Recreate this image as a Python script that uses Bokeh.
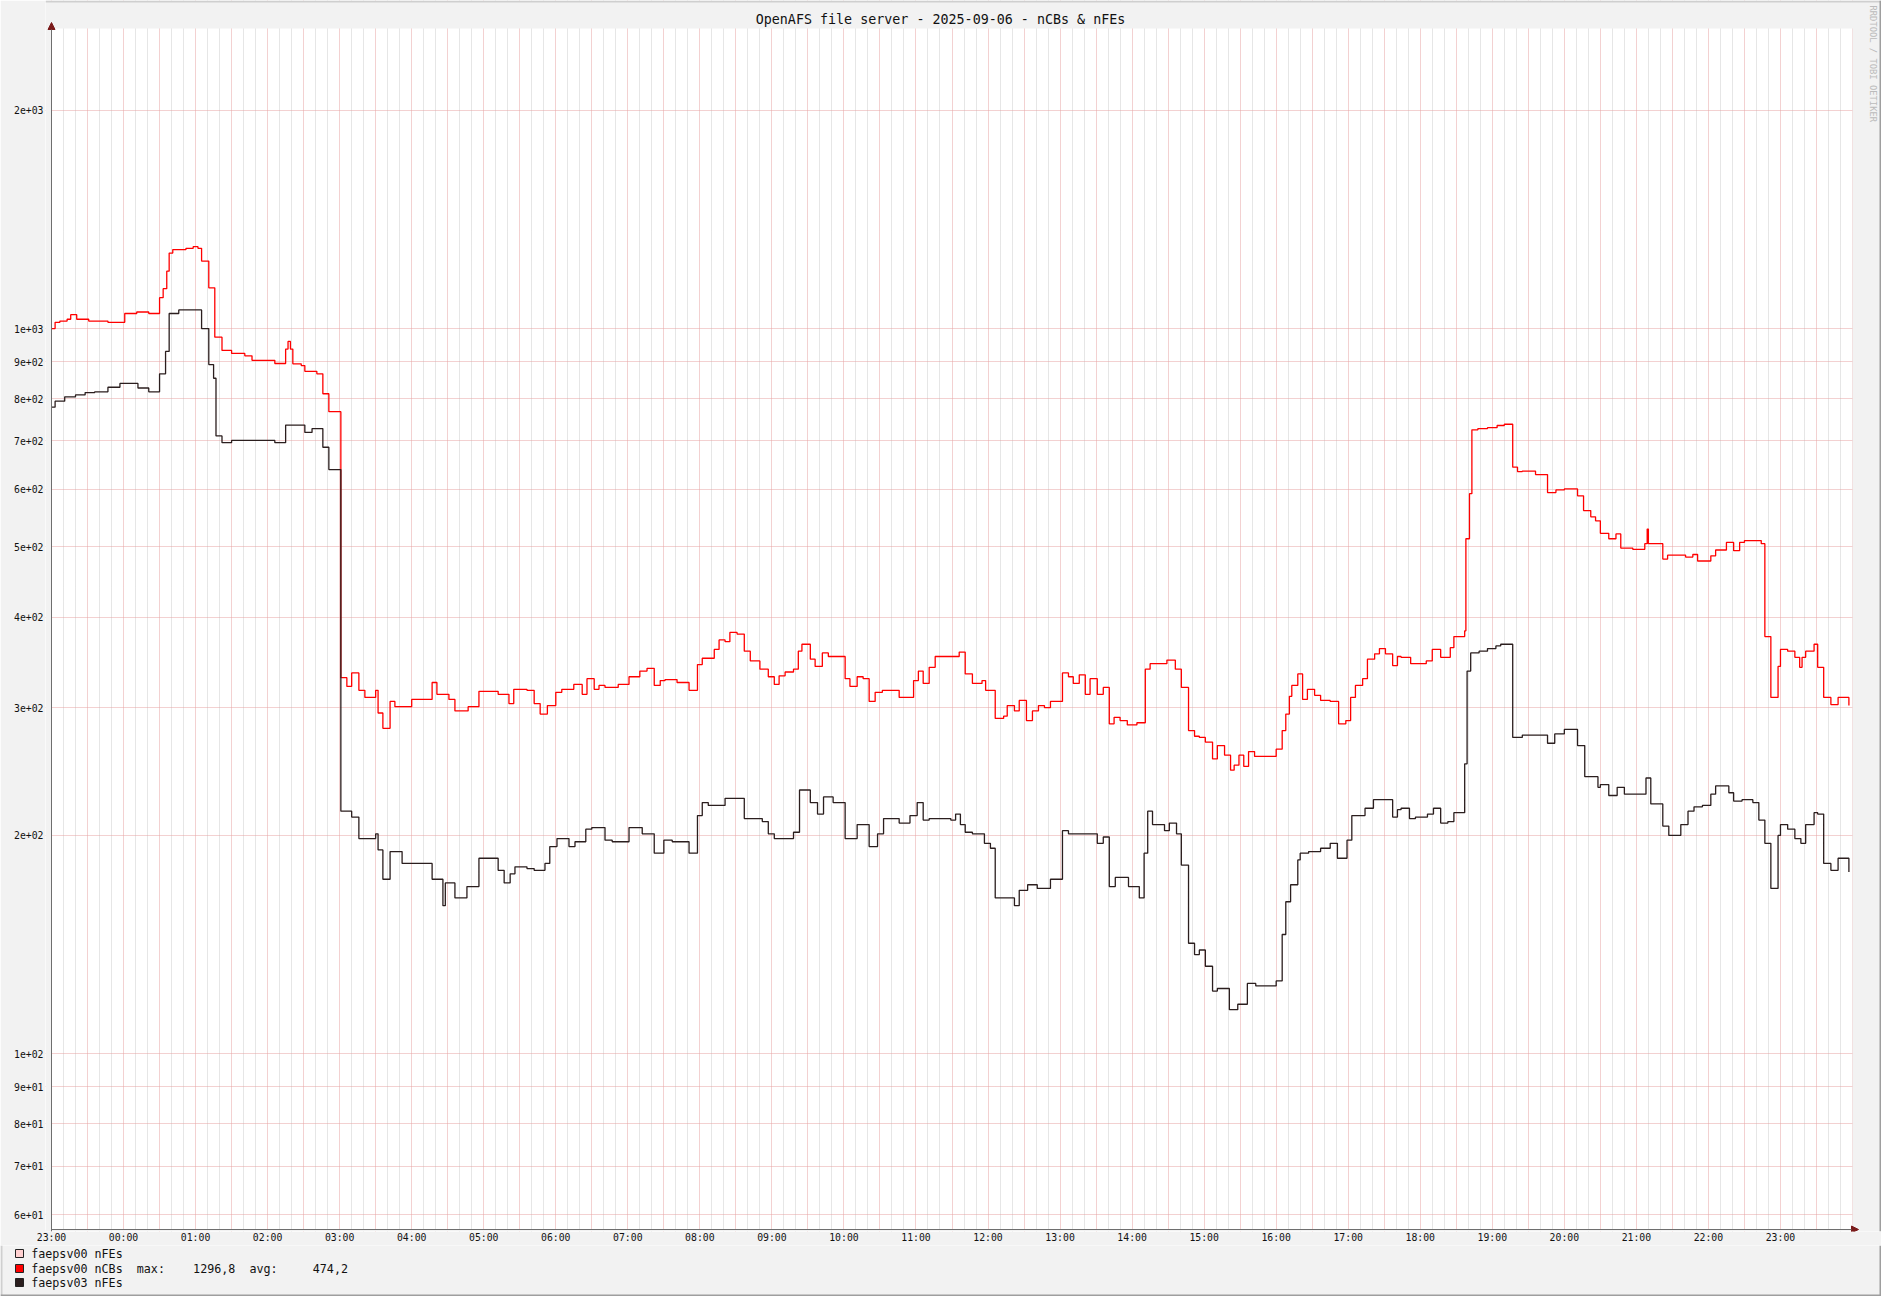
import math
import pandas as pd
from bokeh.plotting import figure
from bokeh.layouts import column
from bokeh.models import (FixedTicker, DatetimeTickFormatter, Label, BoxAnnotation,
                          Arrow, NormalHead, Range1d, ColumnDataSource)
from bokeh.embed import file_html
from bokeh.resources import INLINE

# ---------------- data ----------------
title_text = "OpenAFS file server - 2025-09-06 - nCBs & nFEs"
credit_text = "RRDTOOL / TOBI OETIKER"
start_time = "2025-09-05 23:00"
span_minutes = 1500

# faepsv00 nCBs : minutes since 23:00 (step starts) and values
red_min = [0, 3, 7, 13, 16, 21, 31, 47, 61, 71, 81, 90, 93, 96, 98, 101, 112, 118, 122,
           125, 131, 136, 142, 150, 161, 167, 186, 195, 197, 199, 201, 208, 211, 221, 226, 231,
           241, 246, 250, 256, 261, 270, 272, 276, 282, 286, 300, 317, 321, 331, 336, 347, 356,
           372, 381, 385, 396, 402, 407, 413, 420, 425, 435, 442, 446, 452, 456, 461, 472, 481,
           490, 496, 502, 507, 511, 521, 531, 538, 542, 552, 556, 561, 565, 571, 577, 582, 590,
           597, 602, 606, 611, 618, 622, 625, 632, 636, 642, 647, 661, 665, 671, 676, 681, 686,
           692, 706, 718, 722, 726, 731, 736, 756, 761, 767, 775, 778, 786, 793, 796, 802, 806,
           812, 817, 822, 827, 832, 842, 847, 851, 856, 861, 865, 871, 876, 881, 885, 890, 896,
           904, 911, 915, 929, 936, 941, 947, 952, 956, 961, 967, 971, 977, 982, 985, 989, 993,
           997, 1002, 1020, 1025, 1028, 1031, 1033, 1038, 1042, 1046, 1052, 1057, 1065, 1072,
           1078, 1082, 1086, 1092, 1096, 1102, 1106, 1111, 1117, 1121, 1124, 1132, 1145, 1150,
           1157, 1165, 1168, 1177, 1178, 1181, 1183, 1188, 1196, 1204, 1210, 1217, 1221, 1225,
           1236, 1246, 1253, 1260, 1271, 1276, 1282, 1286, 1290, 1297, 1303, 1307, 1317, 1327,
           1329, 1330, 1342, 1346, 1361, 1367, 1371, 1382, 1386, 1395, 1401, 1406, 1410, 1424,
           1427, 1432, 1438, 1440, 1446, 1452, 1456, 1458, 1461, 1468, 1471, 1476, 1482, 1488,
           1497]
red_val = [1000, 1020, 1024, 1030, 1045, 1030, 1024, 1020, 1049, 1054, 1049, 1103, 1135, 1200,
           1271, 1285, 1290, 1297, 1290, 1239, 1138, 973, 933, 924, 917, 904, 895, 937, 960, 937,
           894, 889, 873, 866, 813, 768,
           330, 321, 335, 317, 310, 317, 295, 281, 306, 301, 308, 325, 313, 308, 297, 301, 316,
           313, 304, 318, 317, 304, 294, 302, 315, 318, 323, 313, 329, 318, 322, 320, 323, 331,
           337, 340, 322, 327, 328, 325, 317, 344, 351, 361, 372, 370, 381, 379, 359, 348, 339,
           331, 323, 332, 336, 339, 359, 367, 350, 342, 357, 353, 329, 321, 331, 329, 306, 315,
           317, 310, 327, 337, 324, 341, 353, 358, 334, 324, 327, 317, 290, 292, 302, 297, 307,
           288, 297, 302, 300, 306, 335, 331, 324, 333, 313, 329, 313, 320, 285, 291, 288, 284,
           286, 339, 345, 349, 339, 320, 279, 274, 273, 269, 255, 266, 258, 246, 250, 258, 249,
           261, 257, 263, 279, 294, 311, 322, 334, 308, 318, 312, 307, 306, 285,
           288, 310, 322, 329, 350, 356, 362, 356, 343, 353, 352, 345, 348, 361,
           352, 363, 376, 383, 513, 592, 725, 728, 730, 735, 738, 644, 635, 636,
           629, 594, 599, 601, 588, 561, 550, 543, 522, 513, 521, 498, 496, 505,
           529, 505, 481, 487, 484, 488, 478, 486, 495, 507, 494, 507, 510, 505,
           376, 310, 342, 361, 359, 352, 341, 352, 359, 367, 341, 310, 303, 310,
           302]

# faepsv03 nFEs
blk_min = [0, 3, 11, 20, 28, 36, 47, 57, 72, 81, 90, 95, 98, 106, 125, 131, 135, 137, 142, 150,
           186, 195, 211, 217, 226, 231, 241, 250, 256, 270, 272, 276, 282, 292, 317, 326, 328,
           336, 346, 356, 372, 377, 382, 386, 396, 402, 411, 415, 421, 431, 436, 445, 450, 461,
           467, 481, 492, 502, 510, 517, 531, 538, 542, 547, 561, 577, 592, 597, 602, 618, 623,
           632, 638, 643, 651, 661, 671, 681, 688, 693, 706, 715, 721, 726, 731, 749, 753, 757,
           761, 767, 777, 782, 786, 802, 806, 813, 821, 832, 842, 847, 871, 876, 881, 886, 897,
           906, 910, 913, 917, 927, 931, 937, 941, 947, 952, 956, 961, 967, 971, 981, 988, 996,
           1003, 1020, 1025, 1028, 1032, 1038, 1040, 1047, 1057, 1065, 1071, 1079, 1083, 1094,
           1101, 1117, 1121, 1124, 1131, 1136, 1146, 1151, 1157, 1163, 1168, 1177, 1179, 1182,
           1189, 1196, 1203, 1207, 1217, 1225, 1246, 1252, 1260, 1271, 1277, 1288, 1290, 1297,
           1304, 1310, 1328, 1332, 1342, 1347, 1357, 1363, 1368, 1375, 1382, 1386, 1397, 1401,
           1408, 1417, 1422, 1427, 1432, 1438, 1440, 1446, 1452, 1457, 1461, 1468, 1471, 1476,
           1482, 1488, 1497]
blk_val = [779, 794, 805, 810, 816, 818, 830, 840, 828, 818, 866, 930, 1049, 1061, 1000, 892,
           854, 711, 696, 701, 696, 736, 719, 728, 686, 639, 216, 212, 198, 201, 191, 174, 190,
           183, 174, 160, 172, 164, 170, 186, 179, 172, 177, 181, 180, 179, 183, 193, 198, 193,
           196, 204, 205, 197, 196, 205, 201, 189, 197, 196, 189, 213, 222, 220, 225, 211, 209,
           201, 198, 202, 231, 222, 214, 226, 222, 198, 207, 193, 201, 211, 208, 213, 222, 210,
           211, 210, 214, 207, 202, 201, 195, 192, 164, 160, 168, 171, 169, 174, 203, 201, 195,
           199, 170, 175, 170, 164, 189, 216, 207, 203, 208, 201, 182, 142, 137, 139, 132, 122,
           123, 115, 117, 125, 124, 126, 146, 162, 171, 185, 189, 190, 192, 195, 186, 197, 213,
           218, 224, 212, 217, 218, 211, 212, 214, 218, 208, 209, 215, 251, 337, 357, 359, 362,
           365, 367, 273, 275, 268, 276, 280, 266, 241, 233, 235, 227, 233, 228, 240, 221, 206,
           200, 207, 216, 219, 220, 228, 234, 229, 223, 224, 222, 210, 195, 169, 200, 207, 204,
           198, 195, 207, 215, 214, 183, 179, 186, 178]

y_ticks = [60, 70, 80, 90, 100, 200, 300, 400, 500, 600, 700, 800, 900, 1000, 2000]
y_tick_labels = ["6e+01", "7e+01", "8e+01", "9e+01", "1e+02", "2e+02", "3e+02", "4e+02",
                 "5e+02", "6e+02", "7e+02", "8e+02", "9e+02", "1e+03", "2e+03"]

legend_names = ["faepsv00 nFEs", "faepsv00 nCBs", "faepsv03 nFEs"]
legend_colors = ["#FFD0D0", "#FF0000", "#2B1E1E"]
stat_max = "1296,8"
stat_avg = "474,2"

# value range shown by the plot area (y axis bottom / top)
Y_MIN, Y_MAX = 57.22, 2592.9

# ---------------- layout constants (pixels) ----------------
W, H = 1881, 1296
H_MAIN = 1245                                            # main chart canvas height
PLOT_L, PLOT_R, PLOT_T, PLOT_B = 51, 1852, 28, 1229     # plot area
FRAME_L, FRAME_R, FRAME_T, FRAME_B = 45, 1881, 0, 1231  # bokeh frame

px_per_min = (PLOT_R - PLOT_L) / span_minutes
dec_px = (PLOT_B - PLOT_T) / (math.log10(Y_MAX) - math.log10(Y_MIN))
x_lo = -(PLOT_L - FRAME_L) / px_per_min
x_hi = span_minutes + (FRAME_R - PLOT_R) / px_per_min
y_lo = 10 ** (math.log10(Y_MIN) - (FRAME_B - PLOT_B) / dec_px)
y_hi = 10 ** (math.log10(Y_MAX) + (PLOT_T - FRAME_T) / dec_px)

t0 = pd.Timestamp(start_time)


def to_dt(mins):
    return [t0 + pd.Timedelta(minutes=m) for m in mins]


def ms(m):
    return (t0 + pd.Timedelta(minutes=m)).value / 1e6


p = figure(width=W, height=H_MAIN, x_axis_type="datetime", y_axis_type="log",
           x_range=Range1d(ms(x_lo), ms(x_hi)), y_range=Range1d(y_lo, y_hi),
           output_backend="svg", toolbar_location=None,
           min_border_left=FRAME_L, min_border_right=W - FRAME_R,
           min_border_top=FRAME_T, min_border_bottom=H_MAIN - FRAME_B)
p.frame_align = False
BACK = "#F2F2F2"
LIGHT_EDGE = "#CFCFCF"
DARK_EDGE = "#9E9E9E"
p.border_fill_color = BACK
p.background_fill_color = "#FFFFFF"
p.outline_line_color = None

MONO = "DejaVu Sans Mono"
AXIS_COL = "#6E6E6E"
ARROW_COL = "#7A1A1A"

# x axis
p.xaxis.ticker = FixedTicker(ticks=[ms(m) for m in range(0, 1441, 60)])
fmt = "%H:%M"
p.xaxis.formatter = DatetimeTickFormatter(milliseconds=fmt, seconds=fmt, minsec=fmt, minutes=fmt,
                                          hourmin=fmt, hours=fmt, days=fmt, months=fmt, years=fmt)
p.xgrid.ticker = FixedTicker(ticks=[ms(m) for m in range(0, span_minutes + 1, 30)],
                             minor_ticks=[ms(m) for m in range(0, span_minutes + 1, 10) if m % 30])
# y axis
p.yaxis.ticker = FixedTicker(ticks=y_ticks)
p.ygrid.ticker = FixedTicker(ticks=y_ticks)
p.yaxis.major_label_overrides = {float(v): s for v, s in zip(y_ticks, y_tick_labels)}

for ax in (p.xaxis, p.yaxis):
    ax.axis_line_color = None
    ax.major_tick_line_color = None
    ax.minor_tick_line_color = None
    ax.major_tick_out = 0
    ax.major_tick_in = 0
    ax.major_label_text_font = MONO
    ax.major_label_text_font_size = "9.8px"
    ax.major_label_text_color = "#111111"
p.xaxis.major_label_standoff = 0
p.yaxis.major_label_standoff = 2

for g in (p.xgrid, p.ygrid):
    g.grid_line_color = "#E6A3A3"
    g.grid_line_dash = "1 1"
    g.grid_line_width = 1
p.xgrid.minor_grid_line_color = "#CDCDCD"
p.xgrid.minor_grid_line_dash = "1 1"

# series
red_src = ColumnDataSource(dict(x=to_dt(red_min), y=red_val))
blk_src = ColumnDataSource(dict(x=to_dt(blk_min), y=blk_val))
p.step("x", "y", source=red_src, mode="after", line_color=legend_colors[1], line_width=1.3)
p.step("x", "y", source=blk_src, mode="after", line_color=legend_colors[2], line_width=1.3)

# cover the frame outside the plot area with the background colour
p.add_layout(BoxAnnotation(bottom=Y_MAX, fill_color=BACK, fill_alpha=1, line_color=None))
p.add_layout(BoxAnnotation(top=Y_MIN, fill_color=BACK, fill_alpha=1, line_color=None))
p.add_layout(BoxAnnotation(right=ms(0), fill_color=BACK, fill_alpha=1, line_color=None))
p.add_layout(BoxAnnotation(left=ms(span_minutes), fill_color=BACK, fill_alpha=1, line_color=None))
# picture edges (top light, right dark)
p.add_layout(BoxAnnotation(bottom=FRAME_B - 2, bottom_units="screen",
                           fill_color=LIGHT_EDGE, fill_alpha=1, line_color=None))
p.add_layout(BoxAnnotation(left=W - 2 - FRAME_L, left_units="screen",
                           fill_color=DARK_EDGE, fill_alpha=1, line_color=None))

# axis lines with arrow heads
tip = 6 / px_per_min
p.add_layout(Arrow(end=NormalHead(size=7, fill_color=ARROW_COL, line_color=ARROW_COL),
                   x_start=ms(0), y_start=y_lo,
                   x_end=ms(0), y_end=10 ** (math.log10(Y_MAX) + 6 / dec_px),
                   line_color=AXIS_COL, line_width=1))
p.add_layout(Arrow(end=NormalHead(size=7, fill_color=ARROW_COL, line_color=ARROW_COL),
                   x_start=ms(0), y_start=Y_MIN, x_end=ms(span_minutes + tip), y_end=Y_MIN,
                   line_color=AXIS_COL, line_width=1))

# title (inside frame, above plot area)
p.add_layout(Label(x=940 - FRAME_L, y=FRAME_B - 19.2, x_units="screen", y_units="screen",
                   text=title_text, text_font=MONO, text_font_size="13.35px",
                   text_align="center", text_baseline="middle", text_color="#111111"))

# credit text at right edge
p.add_layout(Label(x=1872 - FRAME_L, y=FRAME_B - 5, x_units="screen", y_units="screen",
                   text=credit_text, text_font=MONO, text_font_size="8.8px",
                   angle=-math.pi / 2, text_align="left", text_baseline="middle",
                   text_color="#BBBBBB"))

# ---------------- legend strip ----------------
H_LEG = H - H_MAIN
q = figure(width=W, height=H_LEG, x_range=Range1d(0, 1), y_range=Range1d(0, 1),
           output_backend="svg", toolbar_location=None, min_border=0,
           x_axis_location=None, y_axis_location=None)
q.frame_align = False
q.grid.visible = False
q.border_fill_color = BACK
q.background_fill_color = BACK
q.outline_line_color = None

# picture edges (left light, right and bottom dark)
q.add_layout(BoxAnnotation(right=2, right_units="screen", fill_color=LIGHT_EDGE,
                           fill_alpha=1, line_color=None))
q.add_layout(BoxAnnotation(left=W - 2, left_units="screen", fill_color=DARK_EDGE,
                           fill_alpha=1, line_color=None))
q.add_layout(BoxAnnotation(top=2, top_units="screen", fill_color=DARK_EDGE,
                           fill_alpha=1, line_color=None))

row_y = [1253, 1268, 1282]          # row centres (page pixels)
for name, col, ry in zip(legend_names, legend_colors, row_y):
    yy = H - ry                      # distance from legend strip bottom
    q.add_layout(BoxAnnotation(left=15, right=23, bottom=yy - 4, top=yy + 4,
                               left_units="screen", right_units="screen",
                               bottom_units="screen", top_units="screen",
                               fill_color=col, fill_alpha=1.0, line_color="#222222",
                               line_width=1, line_alpha=1.0))
    q.add_layout(Label(x=30.7, y=yy, x_units="screen", y_units="screen", text=name,
                       text_font=MONO, text_font_size="11.7px", text_baseline="middle",
                       text_color="#111111"))
cw = 7.04
for col_idx, txt in ((15, "max:"), (23, stat_max), (31, "avg:"), (40, stat_avg)):
    q.add_layout(Label(x=30.7 + col_idx * cw, y=H - row_y[1], x_units="screen",
                       y_units="screen", text=txt, text_font=MONO, text_font_size="11.7px",
                       text_baseline="middle", text_color="#111111"))

layout = column(p, q, spacing=0)
open("out.html", "w").write(file_html(layout, INLINE))
